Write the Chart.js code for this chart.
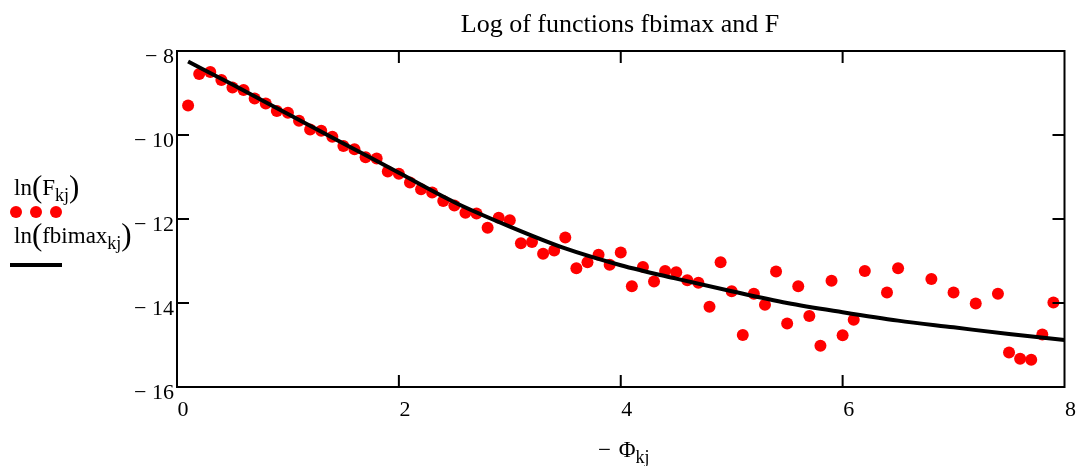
<!DOCTYPE html>
<html lang="en">
<head>
    <meta charset="UTF-8">
    <title>Log of functions fbimax and F</title>
    <script src="https://cdn.jsdelivr.net/npm/chart.js"></script>
    <style>
        body { margin: 0; background: #fff; }
        canvas { display: block; }
    </style>
</head>
<body>
    <canvas id="logChart" width="1080" height="466"></canvas>

    <script>
        // ln(F_kj) (x = -Phi_kj)
        const phiF = [0.1, 0.2, 0.3, 0.4, 0.5, 0.6, 0.7, 0.8, 0.9, 1.0,
                      1.1, 1.2, 1.3, 1.4, 1.5, 1.6, 1.7, 1.8, 1.9, 2.0,
                      2.1, 2.2, 2.3, 2.4, 2.5, 2.6, 2.7, 2.8, 2.9, 3.0,
                      3.1, 3.2, 3.3, 3.4, 3.5, 3.6, 3.7, 3.8, 3.9, 4.0,
                      4.1, 4.2, 4.3, 4.4, 4.5, 4.6, 4.7, 4.8, 4.9, 5.0,
                      5.1, 5.2, 5.3, 5.4, 5.5, 5.6, 5.7, 5.8, 5.9, 6.0,
                      6.1, 6.2, 6.4, 6.5, 6.8, 7.0, 7.2, 7.4, 7.5, 7.6,
                      7.7, 7.8, 7.9];
        const lnF = [-9.30, -8.55, -8.50, -8.69, -8.87, -8.93, -9.13, -9.25, -9.43, -9.47,
                     -9.66, -9.87, -9.90, -10.04, -10.26, -10.34, -10.53, -10.56, -10.87, -10.92,
                     -11.13, -11.29, -11.37, -11.57, -11.68, -11.85, -11.87, -12.21, -11.97, -12.03,
                     -12.58, -12.55, -12.83, -12.75, -12.44, -13.17, -13.03, -12.85, -13.09, -12.80,
                     -13.60, -13.14, -13.49, -13.24, -13.27, -13.46, -13.52, -14.09, -13.03, -13.72,
                     -14.76, -13.78, -14.04, -13.25, -14.49, -13.60, -14.31, -15.02, -13.47, -14.77,
                     -14.40, -13.24, -13.75, -13.17, -13.43, -13.75, -14.01, -13.78, -15.18, -15.33,
                     -15.35, -14.75, -13.99];

        // ln(fbimax_kj) curve
        const phiFit = [0.1, 0.5, 1.0, 1.5, 2.0, 2.5, 3.0, 3.5, 4.0, 4.5, 5.0, 5.5, 6.0, 6.5, 7.0, 7.5, 8.0];
        const lnFit = [-8.25, -8.80, -9.50, -10.20, -10.90, -11.60, -12.18, -12.70, -13.10, -13.42,
                       -13.72, -14.00, -14.22, -14.42, -14.58, -14.74, -14.88];

        const xTicks = [0, 2, 4, 6, 8];
        const yTicks = [-8, -10, -12, -14, -16];

        const serif = '"Liberation Serif", "Times New Roman", serif';

        function pts(xs, ys) {
            return xs.map((x, i) => ({ x: x, y: ys[i] }));
        }

        function minus(v) {
            return v < 0 ? '\u2212 ' + Math.abs(v) : String(v);
        }

        // draw text like "ln(F_kj)" with subscript and tall brackets
        function mathText(ctx, x, y, parts) {
            let cx = x;
            parts.forEach(p => {
                ctx.font = p.size + 'px ' + serif;
                ctx.fillText(p.t, cx, y + (p.dy || 0));
                cx += ctx.measureText(p.t).width + (p.gap || 0);
            });
        }

        // frame, inward ticks, title, axis label and legend
        const decor = {
            id: 'decor',
            afterDraw(chart) {
                const ctx = chart.ctx;
                const a = chart.chartArea;
                const xs = chart.scales.x, ys = chart.scales.y;
                ctx.save();
                ctx.strokeStyle = '#000';
                ctx.lineWidth = 2;
                ctx.strokeRect(a.left, a.top, a.right - a.left, a.bottom - a.top);
                ctx.beginPath();
                xTicks.slice(1, -1).forEach(v => {
                    const px = xs.getPixelForValue(v);
                    ctx.moveTo(px, a.bottom); ctx.lineTo(px, a.bottom - 12);
                    ctx.moveTo(px, a.top); ctx.lineTo(px, a.top + 12);
                });
                yTicks.slice(1, -1).forEach(v => {
                    const py = ys.getPixelForValue(v);
                    ctx.moveTo(a.left, py); ctx.lineTo(a.left + 12, py);
                    ctx.moveTo(a.right, py); ctx.lineTo(a.right - 12, py);
                });
                ctx.stroke();

                ctx.fillStyle = '#000';
                ctx.textBaseline = 'alphabetic';
                ctx.textAlign = 'center';
                ctx.font = '26px ' + serif;
                ctx.fillText('Log of functions fbimax and F', 620, 32);

                ctx.textAlign = 'left';
                mathText(ctx, 598, 457, [
                    { t: '\u2212 ', size: 23, gap: 2 },
                    { t: '\u03A6', size: 23 },
                    { t: 'kj', size: 18, dy: 6 }
                ]);

                // legend
                mathText(ctx, 14, 195, [
                    { t: 'ln', size: 23 },
                    { t: '(', size: 31, dy: 2 },
                    { t: 'F', size: 23 },
                    { t: 'kj', size: 18, dy: 6 },
                    { t: ')', size: 31, dy: 2 }
                ]);
                mathText(ctx, 14, 243, [
                    { t: 'ln', size: 23 },
                    { t: '(', size: 31, dy: 2 },
                    { t: 'fbimax', size: 23 },
                    { t: 'kj', size: 18, dy: 6 },
                    { t: ')', size: 31, dy: 2 }
                ]);
                ctx.fillStyle = '#ff0000';
                [16, 36, 56].forEach(cx => {
                    ctx.beginPath();
                    ctx.arc(cx, 212, 6, 0, Math.PI * 2);
                    ctx.fill();
                });
                ctx.strokeStyle = '#000';
                ctx.lineWidth = 4;
                ctx.beginPath();
                ctx.moveTo(10, 265); ctx.lineTo(62, 265);
                ctx.stroke();
                ctx.restore();
            }
        };

        const ctx = document.getElementById('logChart').getContext('2d');
        const chart = new Chart(ctx, {
            type: 'scatter',
            data: {
                datasets: [{
                    label: 'ln(fbimax)',
                    data: pts(phiFit, lnFit),
                    showLine: true,
                    borderColor: '#000',
                    borderWidth: 4,
                    pointRadius: 0,
                    cubicInterpolationMode: 'monotone',
                    order: 1
                }, {
                    label: 'ln(F)',
                    data: pts(phiF, lnF),
                    backgroundColor: '#ff0000',
                    borderWidth: 0,
                    pointRadius: 6,
                    order: 2
                }]
            },
            options: {
                responsive: false,
                animation: false,
                layout: { padding: { top: 51, right: 13 } },
                plugins: {
                    legend: { display: false },
                    tooltip: { enabled: false }
                },
                scales: {
                    x: {
                        min: 0, max: 8,
                        afterFit: s => { s.height = 79; },
                        afterBuildTicks: s => { s.ticks = xTicks.map(v => ({ value: v })); },
                        grid: { display: false, drawTicks: false },
                        border: { display: false },
                        ticks: {
                            color: '#000',
                            font: { family: serif, size: 22 },
                            padding: 10,
                            labelOffset: 6,
                            maxRotation: 0
                        }
                    },
                    y: {
                        min: -16, max: -8,
                        afterFit: s => { s.width = 177; },
                        afterBuildTicks: s => { s.ticks = yTicks.map(v => ({ value: v })); },
                        grid: { display: false, drawTicks: false },
                        border: { display: false },
                        ticks: {
                            color: '#000',
                            font: { family: serif, size: 22 },
                            padding: 3,
                            labelOffset: 6,
                            callback: v => minus(v)
                        }
                    }
                }
            },
            plugins: [decor]
        });
    </script>
</body>
</html>
